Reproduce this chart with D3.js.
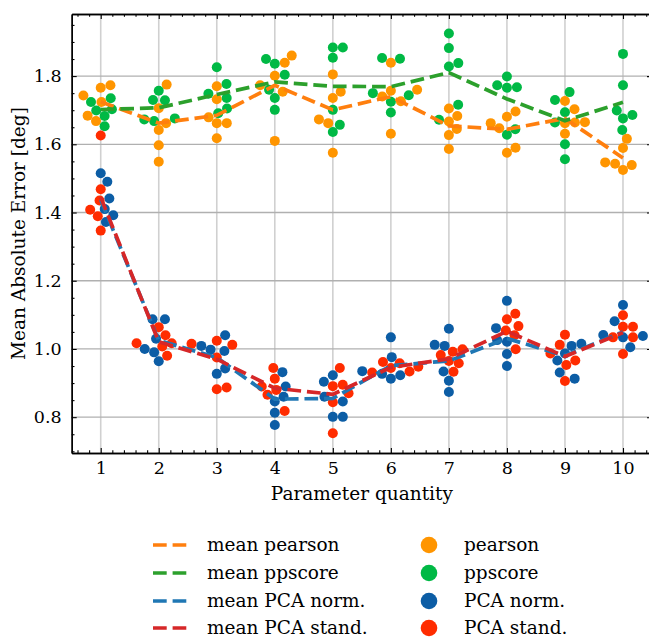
<!DOCTYPE html>
<html>
<head>
<meta charset="utf-8">
<script src="https://cdn.jsdelivr.net/npm/d3@7"></script>
<style>
  body { margin: 0; background: #fff; }
  text { fill: #000; }
</style>
</head>
<body>
<div id="chart"></div>
<script>
// values, one list per parameter quantity (1..10)
const quantities = [1, 2, 3, 4, 5, 6, 7, 8, 9, 10]

const pearson = [
  [1.766, 1.773, 1.743, 1.724, 1.684, 1.668],
  [1.775, 1.706, 1.662, 1.642, 1.597, 1.549],
  [1.770, 1.732, 1.662, 1.662, 1.679, 1.618],
  [1.860, 1.839, 1.801, 1.773, 1.754, 1.610],
  [1.805, 1.754, 1.736, 1.673, 1.662, 1.575],
  [1.839, 1.760, 1.757, 1.726, 1.740, 1.631],
  [1.705, 1.683, 1.667, 1.645, 1.627, 1.586],
  [1.696, 1.681, 1.662, 1.647, 1.590, 1.575],
  [1.727, 1.703, 1.665, 1.662, 1.664, 1.631],
  [1.616, 1.589, 1.539, 1.525, 1.543, 1.547]
]
const ppscore = [
  [1.724, 1.735, 1.703, 1.699, 1.683, 1.653],
  [1.757, 1.730, 1.729, 1.673, 1.668, 1.676],
  [1.826, 1.777, 1.736, 1.748, 1.705, 1.691],
  [1.836, 1.850, 1.804, 1.760, 1.736, 1.701],
  [1.884, 1.884, 1.854, 1.701, 1.657, 1.636],
  [1.851, 1.853, 1.750, 1.744, 1.725, 1.693],
  [1.925, 1.882, 1.838, 1.828, 1.716, 1.672],
  [1.799, 1.767, 1.766, 1.773, 1.644, 1.628],
  [1.753, 1.730, 1.694, 1.664, 1.600, 1.556],
  [1.865, 1.773, 1.699, 1.686, 1.676, 1.642]
]
const pcaNorm = [
  [1.515, 1.490, 1.441, 1.410, 1.392, 1.372],
  [1.087, 1.087, 1.030, 1.000, 0.990, 0.964],
  [1.040, 1.009, 0.994, 0.998, 0.943, 0.927],
  [0.932, 0.890, 0.860, 0.846, 0.813, 0.777],
  [0.923, 0.904, 0.860, 0.846, 0.801, 0.801],
  [1.034, 0.976, 0.935, 0.923, 0.913, 0.927],
  [1.059, 1.012, 1.009, 0.934, 0.907, 0.874],
  [1.141, 1.061, 1.026, 1.021, 0.985, 0.950],
  [1.015, 1.009, 0.987, 0.966, 0.931, 0.913],
  [1.129, 1.081, 1.038, 1.034, 1.041, 1.005]
]
const pcaStand = [
  [1.626, 1.468, 1.435, 1.408, 1.389, 1.347],
  [1.064, 1.040, 1.017, 1.017, 1.007, 0.980],
  [1.024, 1.015, 1.012, 0.975, 0.887, 0.882],
  [0.944, 0.913, 0.890, 0.880, 0.866, 0.818],
  [0.944, 0.895, 0.891, 0.870, 0.844, 0.753],
  [0.962, 0.958, 0.934, 0.944, 0.948, 0.931],
  [0.992, 0.999, 0.965, 0.982, 0.958, 0.933],
  [1.103, 1.087, 1.067, 1.054, 1.040, 0.999],
  [1.042, 1.012, 0.987, 0.966, 0.953, 0.906],
  [1.099, 1.065, 1.065, 1.034, 1.034, 0.985]
]

// dashed mean lines
const meanPearson  = [1.725, 1.662, 1.685, 1.773, 1.701, 1.740, 1.654, 1.644, 1.676, 1.560]
const meanPpscore  = [1.702, 1.707, 1.746, 1.783, 1.770, 1.769, 1.810, 1.733, 1.669, 1.723]
const meanPcaNorm  = [1.437, 1.025, 0.975, 0.853, 0.855, 0.951, 0.965, 1.031, 0.980, 1.050]
const meanPcaStand = [1.445, 1.021, 0.970, 0.885, 0.867, 0.946, 0.971, 1.052, 0.978, 1.048]

const yTicks = [0.8, 1.0, 1.2, 1.4, 1.6, 1.8]

const groups = [
  {name: "pearson",     data: pearson,  color: "#FF9500"},
  {name: "ppscore",     data: ppscore,  color: "#00B945"},
  {name: "PCA norm.",   data: pcaNorm,  color: "#0C5DA5"},
  {name: "PCA stand.",  data: pcaStand, color: "#FF2C00"}
]
const means = [
  {name: "mean pearson",    data: meanPearson,  color: "#ff7f0e"},
  {name: "mean ppscore",    data: meanPpscore,  color: "#2ca02c"},
  {name: "mean PCA norm.",  data: meanPcaNorm,  color: "#1f77b4"},
  {name: "mean PCA stand.", data: meanPcaStand, color: "#d62728"}
]

// serif font: DejaVu Serif if it is there, otherwise Liberation Serif a bit larger
const serifOK = (function() {
  const c = document.createElement("canvas").getContext("2d")
  c.font = "40px monospace"
  const a = c.measureText("mmmwwwiiil1.8").width
  c.font = '40px "DejaVu Serif", monospace'
  const b = c.measureText("mmmwwwiiil1.8").width
  return a !== b
})()
const FONT = serifOK ? '"DejaVu Serif", serif' : '"Liberation Serif", serif'
const k = serifOK ? 1 : 1.12
const tickFont = (17.5 * k) + "px"
const labelFont = (18.5 * k) + "px"

const width = 649
const height = 637
const mLeft = 71.7, mRight = 652, mTop = 14, mBottom = 453
const r = 5

const svg = d3.select("#chart")
  .append("svg")
    .attr("width", width)
    .attr("height", height)
    .style("font-family", FONT)

const x = d3.scaleLinear().domain([0.5, 10.5]).range([mLeft, mRight])
const y = d3.scaleLinear().domain([0.695, 1.982]).range([mBottom, mTop])

// grid
svg.append("g").selectAll("line")
  .data(quantities).enter()
  .append("line")
    .attr("x1", d => x(d)).attr("x2", d => x(d))
    .attr("y1", mTop).attr("y2", mBottom)
    .attr("stroke", "#d0d0d0")
    .attr("stroke-width", 1.6)
svg.append("g").selectAll("line")
  .data(yTicks).enter()
  .append("line")
    .attr("x1", mLeft).attr("x2", mRight)
    .attr("y1", d => y(d)).attr("y2", d => y(d))
    .attr("stroke", "#b0b0b0")
    .attr("stroke-width", 1.3)

// swarm layout, roughly like seaborn: sorted by value, closest free slot to the centre
function swarm(points, cx) {
  const dia = 2 * r
  const sorted = points.slice().sort((a, b) => a.v - b.v)
  const placed = []
  sorted.forEach(p => {
    p.py = y(p.v)
    const near = placed.filter(q => Math.abs(q.py - p.py) < dia)
    const cands = [0]
    near.forEach(q => {
      const dx = Math.sqrt(dia * dia - (q.py - p.py) ** 2)
      cands.push(q.dx + dx, q.dx - dx)
    })
    cands.sort((a, b) => Math.abs(a) - Math.abs(b))
    p.dx = cands.find(c => near.every(q => (q.dx - c) ** 2 + (q.py - p.py) ** 2 >= dia * dia - 0.01))
    p.px = cx + p.dx
    placed.push(p)
  })
  return points
}

var allPoints = []
quantities.forEach((q, i) => {
  let pts = []
  groups.forEach(g => {
    g.data[i].forEach(v => pts.push({v: v, color: g.color}))
  })
  allPoints = allPoints.concat(swarm(pts, x(q)))
})

svg.append("g").selectAll("circle")
  .data(allPoints).enter()
  .append("circle")
    .attr("cx", d => d.px)
    .attr("cy", d => d.py)
    .attr("r", r)
    .attr("fill", d => d.color)

// mean lines
const line = d3.line()
  .x((d, i) => x(quantities[i]))
  .y(d => y(d))

svg.append("g").selectAll("path")
  .data(means).enter()
  .append("path")
    .attr("d", d => line(d.data))
    .attr("fill", "none")
    .attr("stroke", d => d.color)
    .attr("stroke-width", 3.7)
    .attr("stroke-dasharray", "13.7,5.9")

// axes, ticks pointing inward
const fmt = d3.format(".1f")
function styleAxis(g) {
  g.attr("font-family", null).attr("font-size", null)
  g.select(".domain").attr("stroke", "#000").attr("stroke-width", 1.4)
  g.selectAll(".tick line").attr("stroke", "#000").attr("stroke-width", 1.1)
  g.selectAll("text").style("font-size", tickFont)
}

const xMinor = d3.range(0.6, 10.5, 0.2).filter(v => Math.abs(v - Math.round(v)) > 0.01)
const yMinor = d3.range(0.70, 1.98, 0.05).filter(v => Math.abs(v * 5 - Math.round(v * 5)) > 0.01)

svg.append("g").attr("transform", `translate(0,${mBottom})`)
  .call(d3.axisBottom(x).tickValues(quantities).tickSizeInner(-5).tickSizeOuter(0).tickPadding(9).tickFormat(d3.format("d")))
  .call(styleAxis)
svg.append("g").attr("transform", `translate(0,${mBottom})`)
  .call(d3.axisBottom(x).tickValues(xMinor).tickSizeInner(-2.8).tickSizeOuter(0).tickFormat(""))
  .call(styleAxis)
svg.append("g").attr("transform", `translate(0,${mTop})`)
  .call(d3.axisTop(x).tickValues(quantities).tickSizeInner(-5).tickSizeOuter(0).tickFormat(""))
  .call(styleAxis)
svg.append("g").attr("transform", `translate(0,${mTop})`)
  .call(d3.axisTop(x).tickValues(xMinor).tickSizeInner(-2.8).tickSizeOuter(0).tickFormat(""))
  .call(styleAxis)

svg.append("g").attr("transform", `translate(${mLeft},0)`)
  .call(d3.axisLeft(y).tickValues(yTicks).tickSizeInner(-5).tickSizeOuter(0).tickPadding(10).tickFormat(fmt))
  .call(styleAxis)
svg.append("g").attr("transform", `translate(${mLeft},0)`)
  .call(d3.axisLeft(y).tickValues(yMinor).tickSizeInner(-2.8).tickSizeOuter(0).tickFormat(""))
  .call(styleAxis)
svg.append("g").attr("transform", `translate(${mRight},0)`)
  .call(d3.axisRight(y).tickValues(yTicks).tickSizeInner(-5).tickSizeOuter(0).tickFormat(""))
  .call(styleAxis)

// axis labels
svg.append("text")
  .attr("x", (mLeft + mRight) / 2)
  .attr("y", 500)
  .attr("text-anchor", "middle")
  .style("font-size", labelFont)
  .text("Parameter quantity")

svg.append("text")
  .attr("transform", `translate(25,${(mTop + mBottom) / 2}) rotate(-90)`)
  .attr("text-anchor", "middle")
  .style("font-size", labelFont)
  .text("Mean Absolute Error [deg]")

// legend
const rowY = [545, 573, 601, 628]
var legLines = svg.append("g").selectAll("g")
  .data(means).enter()
  .append("g")
    .attr("transform", (d, i) => `translate(0,${rowY[i]})`)
legLines.append("line")
  .attr("x1", 153).attr("x2", 188)
  .attr("stroke", d => d.color)
  .attr("stroke-width", 3.7)
  .attr("stroke-dasharray", "13.7,5.9")
legLines.append("text")
  .attr("x", 207)
  .attr("dy", "0.35em")
  .style("font-size", labelFont)
  .text(d => d.name)

var legDots = svg.append("g").selectAll("g")
  .data(groups).enter()
  .append("g")
    .attr("transform", (d, i) => `translate(0,${rowY[i]})`)
legDots.append("circle")
  .attr("cx", 429)
  .attr("r", 8.3)
  .attr("fill", d => d.color)
legDots.append("text")
  .attr("x", 464)
  .attr("dy", "0.35em")
  .style("font-size", labelFont)
  .text(d => d.name)
</script>
</body>
</html>
